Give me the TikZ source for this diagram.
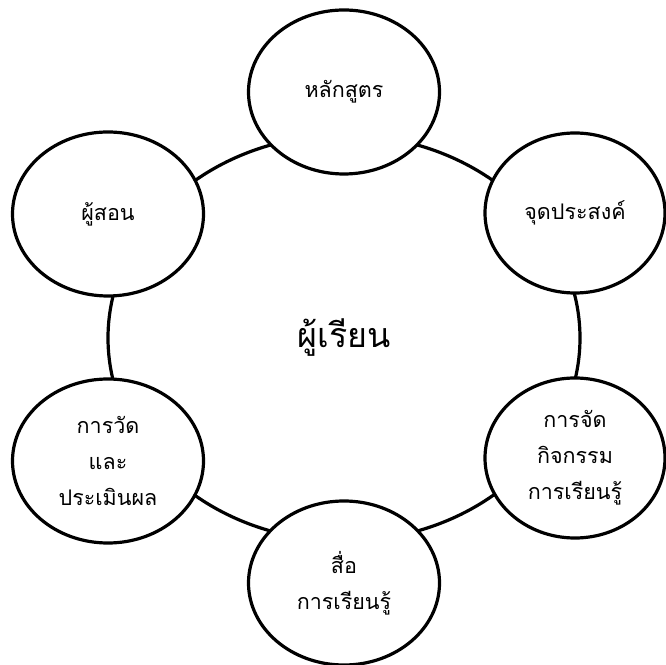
\documentclass[tikz,border=0pt]{standalone}
\usepackage{fontspec}
\newfontfamily\thaifont[Script=Thai]{Loma}
\usepackage{tikz}
\usetikzlibrary{shapes.geometric}
\tikzset{
  ring/.style={draw, ellipse, line width=3.2pt, inner sep=0pt, align=center},
  hub/.style={ring, minimum width=472pt, minimum height=406pt, font=\thaifont\fontsize{34}{40}\selectfont},
  part/.style={ring, fill=white, font=\thaifont\fontsize{21.5}{36}\selectfont},
  wide/.style={part, minimum width=191pt, minimum height=164pt},
  slim/.style={part, minimum width=180pt, minimum height=160pt},
}

\begin{document}
\begin{tikzpicture}[x=1pt, y=1pt]
\useasboundingbox (0,0) rectangle (666,664);
\node[hub] (learner) at (344,326) {ผู้เรียน};
\node[wide] (course) at (344,572) {หลักสูตร};
\node[wide] (teacher) at (108,450) {ผู้สอน};
\node[slim] (goal) at (575,451) {จุดประสงค์};
\node[wide] (assess) at (108,203) {การวัด\\และ\\ประเมินผล};
\node[slim] (activity) at (575,206) {การจัด\\กิจกรรม\\การเรียนรู้};
\node[wide] (media) at (344,81) {สื่อ\\การเรียนรู้};
\end{tikzpicture}
\end{document}
